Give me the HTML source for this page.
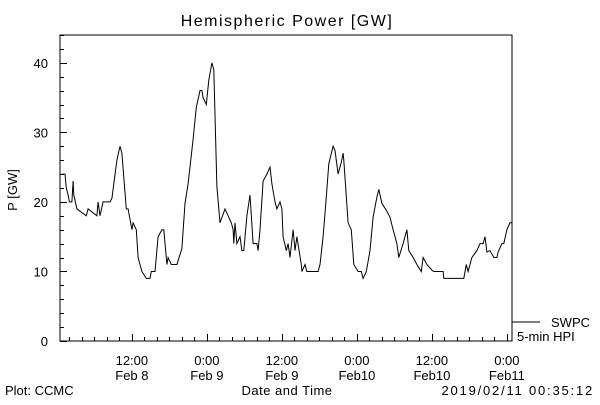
<!DOCTYPE html>
<html><head><meta charset="utf-8"><style>
body{margin:0;background:#fff;}
svg text{font-family:"Liberation Sans",sans-serif;font-size:13px;fill:#000;}
</style></head><body>
<svg id="chart" width="600" height="400" xmlns="http://www.w3.org/2000/svg">
<rect x="0" y="0" width="600" height="400" fill="#fff"/>
<text x="287" y="26" text-anchor="middle" style="font-size:16px;letter-spacing:1.5px">Hemispheric Power [GW]</text>
<text transform="translate(17,190) rotate(-90)" text-anchor="middle">P [GW]</text>
<text x="287" y="395" text-anchor="middle" style="letter-spacing:0.5px">Date and Time</text>
<text x="5" y="395">Plot: CCMC</text>
<text x="594" y="395" text-anchor="end" style="letter-spacing:1.8px">2019/02/11 00:35:12</text>
<rect x="60" y="35" width="452" height="306" fill="none" stroke="#000" stroke-width="1"/>
<g id="axes"></g>
<polyline id="series" fill="none" stroke="#000" stroke-width="1"/>
<line x1="512" y1="322" x2="540" y2="322" stroke="#000"/>
<text x="590" y="327" text-anchor="end">SWPC</text>
<text x="517" y="341">5-min HPI</text>
</svg>
<script>
const hours=[0.8,1.3,1.5,1.8,2.0,2.4,2.6,2.7,3.2,4.7,5.0,6.4,6.6,6.9,7.4,8.5,8.8,9.1,9.6,10.1,10.4,11.1,11.4,12.0,12.2,12.7,13.0,13.6,14.3,14.9,15.1,15.7,16.2,16.8,17.1,17.6,17.8,18.3,19.2,20.0,20.5,21.0,21.8,22.3,22.9,23.2,23.4,23.9,24.3,24.8,25.1,25.6,26.1,26.9,27.9,28.2,28.3,28.5,28.8,29.3,29.6,29.9,30.4,30.9,31.4,32.0,32.2,32.5,33.0,33.6,34.1,34.4,34.9,35.2,35.7,36.0,36.2,36.7,37.0,37.3,37.8,38.1,38.4,39.1,39.2,39.7,40.0,41.8,42.1,42.6,43.1,43.5,44.2,44.5,45.0,45.5,45.8,45.9,46.6,47.1,47.5,48.2,48.7,49.0,49.5,50.1,50.6,51.2,51.5,52.0,52.7,53.3,53.8,54.4,54.7,55.4,56.0,56.3,57.0,57.6,58.3,58.6,59.2,60.0,60.3,61.8,61.9,65.1,65.5,65.8,66.4,67.2,67.7,68.2,68.5,68.8,69.3,69.9,70.4,70.6,71.2,71.5,72.0,72.5,72.8];
const power=[24,24,22,21,20,20,23,21,19,18,19,18,20,18,20,20,20.5,22.6,26,28,27,19,19,16,17,16,12,10,9,9,10,10,15,16,16,11,12,11,11,13.3,19.8,22.6,29,33.6,36,36,35,34,37.5,40,39,22.2,17,19,17,16,14,17,14,15,13,13,18,21,14,14,13,16,23,24,25,22.6,20,19,20,19,15,13,14,12,16,13,15,11,10,11,10,10,11,15,20.7,25.5,28,27.4,24,25.7,27,26,17,16,11,10,10,9,10,13,17.8,20.7,21.8,19.8,18.8,17.8,16,14,12,14,16,13,12,11,10,12,11,10.2,10,10,9,9,11,10,12,13,14,14,15,12.8,13,12,12,12.8,14,14,16,17,17];
const yTickLabels=["0","10","20","30","40"];
const xTickLabels=[["12:00","Feb 8"],["0:00","Feb 9"],["12:00","Feb 9"],["0:00","Feb10"],["12:00","Feb10"],["0:00","Feb11"]];
const xTickHours=[12,24,36,48,60,72];

const X0=60,X1=512,Y0=341,Y1=35,T0=0.5,T1=72.82,V0=0,V1=44.0;
function xs(t){return X0+(t-T0)/(T1-T0)*(X1-X0);}
function ys(v){return Y0-(v-V0)/(V1-V0)*(Y0-Y1);}
const ns="http://www.w3.org/2000/svg";
const axes=document.getElementById('axes');
function ln(x1,y1,x2,y2,name){const l=document.createElementNS(ns,'line');l.setAttribute('x1',x1);l.setAttribute('y1',y1);l.setAttribute('x2',x2);l.setAttribute('y2',y2);l.setAttribute('stroke','#000');


axes.appendChild(l);}
function tx(x,y,s,anchor,name){const t=document.createElementNS(ns,'text');t.setAttribute('x',x);t.setAttribute('y',y);t.setAttribute('text-anchor',anchor);t.textContent=s;


axes.appendChild(t);}
for(let v=0;v<=44;v+=2){const y=Math.round(ys(v))+0.5;const major=v%10===0;ln(X0,y,X0+(major?7:4),y,major?'y-major-tick':'y-minor-tick');}
yTickLabels.forEach(s=>{const v=parseFloat(s);tx(48,ys(v)+5,s,'end','y-tick-label');});
for(let h=2;h<=72;h+=2){const x=Math.round(xs(h))+0.5;const major=h%12===0;ln(x,Y0,x,Y0-(major?7:4),major?'x-major-tick':'x-minor-tick');}
xTickLabels.forEach((p,i)=>{const x=xs(xTickHours[i]);tx(x,365,p[0],'middle','x-tick-time-label');tx(x,380,p[1],'middle','x-tick-date-label');});
document.getElementById('series').setAttribute('points',hours.map((h,i)=>xs(h).toFixed(1)+','+ys(power[i]).toFixed(1)).join(' '));
</script>
</body></html>
